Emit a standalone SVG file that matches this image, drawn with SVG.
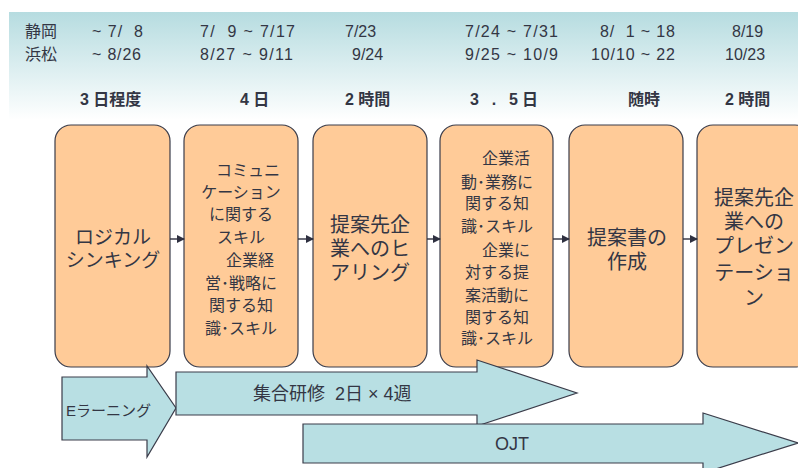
<svg xmlns="http://www.w3.org/2000/svg" width="798" height="468" viewBox="0 0 798 468" xml:space="preserve">
<defs>
<linearGradient id="hdr" x1="0" y1="0" x2="0" y2="1">
<stop offset="0" stop-color="#B6DCE0"/>
<stop offset="1" stop-color="#FFFFFF"/>
</linearGradient>
<marker id="ah" markerWidth="8" markerHeight="8" refX="7" refY="4" orient="auto" markerUnits="userSpaceOnUse">
<path d="M0,0 L8,4 L0,8 Z" fill="#2E3040"/>
</marker>
</defs>
<style>
text{font-family:"Liberation Sans","Noto Sans CJK JP",sans-serif;fill:#333644;white-space:pre}
.h{font-size:16px}
.d{font-size:16px;font-weight:bold}
.box{fill:#FFCB98;stroke:#3A3C4A;stroke-width:1.2}
.bt{font-size:20px;text-anchor:middle}
.st{font-size:16px;text-anchor:middle}
.arr{fill:#B8DFE3;stroke:#3A3C4A;stroke-width:1.2}
.con{stroke:#2E3040;stroke-width:1.4;fill:none}
</style>
<rect x="9" y="12" width="789" height="108" fill="url(#hdr)"/>
<g id="header">
<text class="h" x="25" y="37">静岡</text>
<text class="h" x="25" y="60">浜松</text>
<text class="h" x="92" y="37" textLength="51">~ 7/  8</text>
<text class="h" x="92" y="60" textLength="49">~ 8/26</text>
<text class="h" x="200" y="37" textLength="95">7/  9 ~ 7/17</text>
<text class="h" x="200" y="60" textLength="93">8/27 ~ 9/11</text>
<text class="h" x="345" y="37">7/23</text>
<text class="h" x="352" y="60">9/24</text>
<text class="h" x="465" y="37" textLength="93">7/24 ~ 7/31</text>
<text class="h" x="465" y="60" textLength="93">9/25 ~ 10/9</text>
<text class="h" x="600" y="37" textLength="75">8/  1 ~ 18</text>
<text class="h" x="591" y="60" textLength="84">10/10 ~ 22</text>
<text class="h" x="732" y="37">8/19</text>
<text class="h" x="725" y="60">10/23</text>
<text class="d" x="80" y="105">3 日程度</text>
<text class="d" x="240" y="105">4 日</text>
<text class="d" x="345" y="105">2 時間</text>
<text class="d" x="470" y="105" textLength="68">3 . 5日</text>
<text class="d" x="628" y="105">随時</text>
<text class="d" x="725" y="105">2 時間</text>
</g>
<g id="node1">
<rect class="box" x="55" y="125" width="115" height="242" rx="16"/>
<text class="bt" x="113" y="244" style="font-size:19px">ロジカル</text>
<text class="bt" x="113" y="267" style="font-size:19px">シンキング</text>
</g>
<g id="node2">
<rect class="box" x="184" y="125" width="114" height="242" rx="16"/>
<text class="st" x="248" y="176">コミュニ</text>
<text class="st" x="241" y="198">ケーション</text>
<text class="st" x="241" y="220">に関する</text>
<text class="st" x="241" y="243">スキル</text>
<text class="st" x="250" y="266">企業経</text>
<text class="st" x="241" y="289">営･戦略に</text>
<text class="st" x="241" y="311">関する知</text>
<text class="st" x="241" y="334">識･スキル</text>
</g>
<g id="node3">
<rect class="box" x="313" y="125" width="114" height="242" rx="16"/>
<text class="bt" x="370" y="232">提案先企</text>
<text class="bt" x="370" y="256">業へのヒ</text>
<text class="bt" x="370" y="280">アリング</text>
</g>
<g id="node4">
<rect class="box" x="440" y="125" width="113" height="242" rx="16"/>
<text class="st" x="506" y="164">企業活</text>
<text class="st" x="497" y="188">動･業務に</text>
<text class="st" x="497" y="209">関する知</text>
<text class="st" x="497" y="232">識･スキル</text>
<text class="st" x="506" y="256">企業に</text>
<text class="st" x="497" y="278">対する提</text>
<text class="st" x="497" y="301">案活動に</text>
<text class="st" x="497" y="323">関する知</text>
<text class="st" x="497" y="344">識･スキル</text>
</g>
<g id="node5">
<rect class="box" x="569" y="125" width="114" height="242" rx="16"/>
<text class="bt" x="627" y="245">提案書の</text>
<text class="bt" x="627" y="269">作成</text>
</g>
<g id="node6">
<rect class="box" x="697" y="125" width="114" height="242" rx="16"/>
<text class="bt" x="754" y="205">提案先企</text>
<text class="bt" x="754" y="229">業への</text>
<text class="bt" x="754" y="253">プレゼン</text>
<text class="bt" x="754" y="280">テーショ</text>
<text class="bt" x="754" y="305">ン</text>
</g>
<g id="connectors">
<line class="con" x1="170" y1="239" x2="184" y2="239" marker-end="url(#ah)"/>
<line class="con" x1="298" y1="239" x2="313" y2="239" marker-end="url(#ah)"/>
<line class="con" x1="427" y1="239" x2="440" y2="239" marker-end="url(#ah)"/>
<line class="con" x1="553" y1="239" x2="569" y2="239" marker-end="url(#ah)"/>
<line class="con" x1="683" y1="239" x2="697" y2="239" marker-end="url(#ah)"/>
</g>
<g id="elearning">
<path class="arr" d="M62,377 H147 V366 L176,408 L147,457 V440 H62 Z"/>
<text x="66" y="416" style="font-size:15px">Eラーニング</text>
</g>
<g id="shugo">
<path class="arr" d="M176,372 H477 V360 L577,393 L477,426 V415 H176 Z"/>
<text x="253" y="400" style="font-size:18px">集合研修  2日 × 4週</text>
</g>
<g id="ojt">
<path class="arr" d="M303,424 H703 V413 L798,443 L703,473 V463 H303 Z"/>
<text x="495" y="450" style="font-size:18px">OJT</text>
</g>
</svg>
